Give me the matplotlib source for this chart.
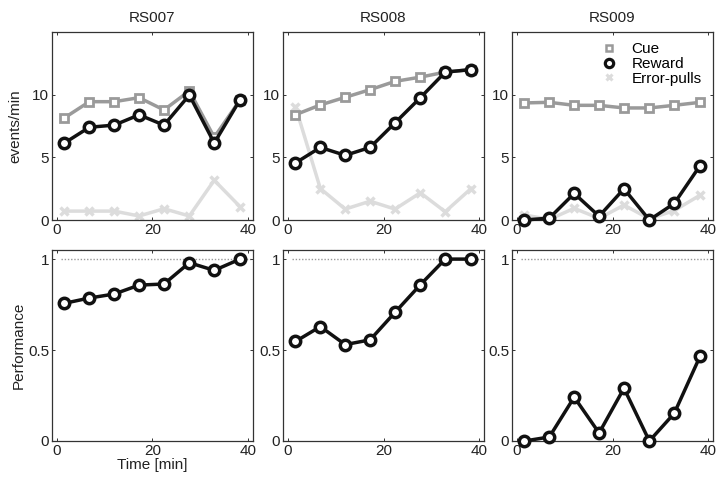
import matplotlib
matplotlib.use("Agg")
import matplotlib.pyplot as plt
from matplotlib.lines import Line2D

plt.rcParams['font.family'] = ['Liberation Sans', 'DejaVu Sans']

subjects = ["RS007", "RS008", "RS009"]
time_min = [1.6, 6.8, 12.0, 17.2, 22.4, 27.7, 32.9, 38.3]

cue = {
    "RS007": [8.15, 9.44, 9.44, 9.76, 8.78, 10.3, 6.6, 9.58],
    "RS008": [8.4, 9.18, 9.79, 10.4, 11.06, 11.4, 11.8, 12.0],
    "RS009": [9.34, 9.39, 9.15, 9.15, 8.94, 8.94, 9.15, 9.39],
}
reward = {
    "RS007": [6.14, 7.4, 7.57, 8.39, 7.57, 9.97, 6.14, 9.6],
    "RS008": [4.55, 5.79, 5.16, 5.79, 7.75, 9.76, 11.8, 12.0],
    "RS009": [0.0, 0.15, 2.12, 0.3, 2.49, 0.0, 1.32, 4.34],
}
errors = {
    "RS007": [0.71, 0.71, 0.71, 0.32, 0.9, 0.32, 3.17, 1.06],
    "RS008": [9.05, 2.51, 0.87, 1.5, 0.87, 2.17, 0.66, 2.51],
    "RS009": [0.4, 0.05, 0.93, 0.13, 1.19, 0.1, 0.75, 1.98],
}
performance = {
    "RS007": [0.757, 0.786, 0.808, 0.857, 0.863, 0.98, 0.938, 1.0],
    "RS008": [0.547, 0.629, 0.53, 0.556, 0.707, 0.859, 1.0, 1.0],
    "RS009": [0.0, 0.022, 0.241, 0.044, 0.29, 0.0, 0.152, 0.466],
}

CUE_C = "#9a9a9a"
ERR_C = "#dcdcdc"
REW_C = "#111111"
SPINE_C = "#333333"
TXT_C = "#222222"
FS = 11

W, H = 723, 484
fig = plt.figure(figsize=(W / 100, H / 100), dpi=100)

lefts = [52, 283, 512]
axw = 201
top_row = (32, 220)
bot_row = (250, 441)


def style(ax):
    for s in ax.spines.values():
        s.set_color(SPINE_C)
        s.set_linewidth(0.9)
    ax.tick_params(direction='in', length=2.5, width=0.7, colors=SPINE_C,
                   labelcolor=TXT_C, labelsize=FS, top=True, right=True, pad=2)


for i, s in enumerate(subjects):
    l = lefts[i]
    ax = fig.add_axes([l / W, 1 - top_row[1] / H, axw / W, (top_row[1] - top_row[0]) / H])
    ax.plot(time_min, errors[s], color=ERR_C, lw=2.5, marker='x', ms=5.5, mew=2.5, zorder=2)
    ax.plot(time_min, cue[s], color=CUE_C, lw=2.5, marker='s', ms=6.2, mew=2.0,
            mfc='white', mec=CUE_C, zorder=3)
    ax.plot(time_min, reward[s], color=REW_C, lw=2.5, marker='o', ms=7.5, mew=2.5,
            mfc='white', mec=REW_C, zorder=4, clip_on=False)
    ax.set_xlim(-1, 41)
    ax.set_ylim(0, 15)
    ax.set_xticks([0, 20, 40])
    ax.set_yticks([0, 5, 10])
    ax.set_title(s, fontsize=FS, color=TXT_C, pad=7)
    style(ax)
    if i == 0:
        ax.set_ylabel("events/min", fontsize=FS, color=TXT_C, labelpad=7)
    if i == 2:
        handles = [
            Line2D([], [], ls='none', marker='s', ms=5, mew=1.8, mfc='white', mec=CUE_C),
            Line2D([], [], ls='none', marker='o', ms=6, mew=2.3, mfc='white', mec=REW_C),
            Line2D([], [], ls='none', marker='x', ms=4.5, mew=2.2, color=ERR_C),
        ]
        ax.legend(handles, ["Cue", "Reward", "Error-pulls"], loc='upper left',
                  bbox_to_anchor=(0.42, 0.962), frameon=False, fontsize=FS,
                  handlelength=1.2, handletextpad=0.9, labelspacing=0.05,
                  borderpad=0.2, borderaxespad=0)

    axb = fig.add_axes([l / W, 1 - bot_row[1] / H, axw / W, (bot_row[1] - bot_row[0]) / H])
    axb.plot([0.9, 41], [1, 1], color='#999999', lw=1.0, ls=(0, (1, 1.3)), zorder=1)
    axb.plot(time_min, performance[s], color=REW_C, lw=2.5, marker='o', ms=7.5, mew=2.5,
             mfc='white', mec=REW_C, zorder=4, clip_on=False)
    axb.set_xlim(-1, 41)
    axb.set_ylim(0, 1.05)
    axb.set_xticks([0, 20, 40])
    axb.set_yticks([0, 0.5, 1])
    axb.set_yticklabels(["0", "0.5", "1"])
    style(axb)
    if i == 0:
        axb.set_ylabel("Performance", fontsize=FS, color=TXT_C, labelpad=2)
        axb.set_xlabel("Time [min]", fontsize=FS, color=TXT_C, labelpad=0)

fig.savefig("out.png", dpi=100)
